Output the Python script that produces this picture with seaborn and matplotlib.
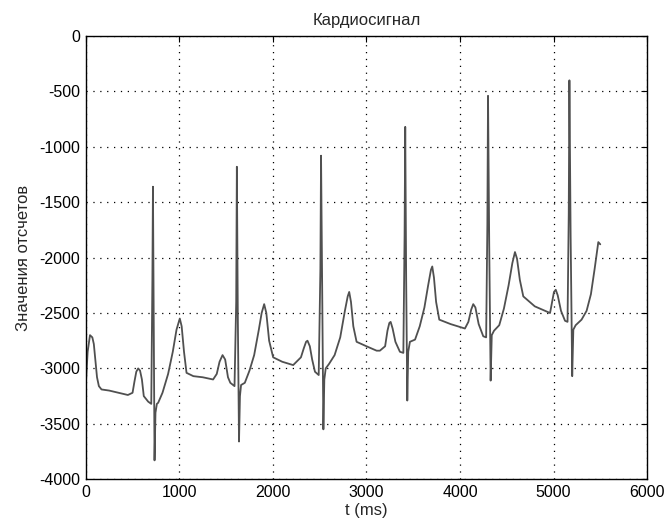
import matplotlib
matplotlib.use("Agg")
import matplotlib.pyplot as plt
import seaborn as sns

# breakpoints of the cardio signal (ms, counts)
t_ms = [0, 20, 45, 70, 86, 100, 120, 140, 168, 250, 350, 450, 500, 520,
        540, 560, 580, 600, 620, 667, 700, 712, 718, 735, 745, 760, 774,
        820, 880, 930, 970, 1005, 1025, 1050, 1077, 1150, 1250, 1361, 1400,
        1430, 1462, 1490, 1520, 1545, 1590, 1608, 1615, 1625, 1638, 1648,
        1660, 1700, 1750, 1800, 1850, 1880, 1907, 1930, 1960, 2003, 2100,
        2217, 2300, 2330, 2355, 2370, 2395, 2420, 2450, 2490, 2508, 2515,
        2527, 2540, 2550, 2565, 2600, 2660, 2720, 2770, 2800, 2816, 2835,
        2860, 2895, 3000, 3109, 3144, 3200, 3225, 3245, 3259, 3280, 3310,
        3358, 3395, 3408, 3415, 3425, 3437, 3447, 3465, 3520, 3570, 3620,
        3660, 3690, 3704, 3722, 3745, 3779, 3900, 4053, 4090, 4120, 4142,
        4165, 4200, 4249, 4280, 4293, 4300, 4313, 4328, 4340, 4364, 4420,
        4470, 4520, 4560, 4588, 4610, 4640, 4677, 4800, 4963, 4985, 5005,
        5024, 5045, 5080, 5123, 5150, 5163, 5170, 5183, 5200, 5212, 5237,
        5300, 5354, 5400, 5440, 5479, 5500]
counts = [-3150, -2850, -2700, -2720, -2780, -2900, -3080, -3160, -3190,
          -3200, -3220, -3240, -3220, -3120, -3030, -3000, -3020, -3100,
          -3250, -3300, -3320, -2200, -1360, -3830, -3400, -3320, -3310,
          -3220, -3050, -2850, -2650, -2550, -2620, -2850, -3040, -3070,
          -3080, -3100, -3050, -2940, -2880, -2920, -3080, -3130, -3160,
          -2400, -1180, -2500, -3660, -3250, -3150, -3130, -3020, -2880,
          -2650, -2500, -2420, -2500, -2750, -2900, -2940, -2970, -2900,
          -2820, -2760, -2750, -2800, -2920, -3030, -3060, -2100, -1080,
          -2300, -3550, -3100, -3000, -2960, -2880, -2720, -2480, -2350,
          -2310, -2400, -2620, -2760, -2800, -2840, -2840, -2800, -2660,
          -2590, -2580, -2640, -2760, -2850, -2860, -1800, -820, -2200,
          -3290, -2850, -2760, -2740, -2620, -2450, -2250, -2110, -2080,
          -2180, -2400, -2560, -2600, -2640, -2580, -2470, -2420, -2450,
          -2600, -2710, -2720, -1700, -540, -1900, -3110, -2700, -2660,
          -2610, -2460, -2250, -2050, -1950, -2010, -2200, -2350, -2440,
          -2500, -2400, -2310, -2290, -2340, -2480, -2570, -2580, -1600,
          -400, -1800, -3070, -2650, -2610, -2560, -2480, -2330, -2100,
          -1860, -1880]

x_ticks = [0, 1000, 2000, 3000, 4000, 5000, 6000]
y_ticks = [0, -500, -1000, -1500, -2000, -2500, -3000, -3500, -4000]

sns.set_style("white")
plt.rcParams['font.family'] = ['Liberation Sans', 'DejaVu Sans']
plt.rcParams['axes.unicode_minus'] = False

fig = plt.figure(figsize=(6.65, 5.22), dpi=100)
ax = fig.add_axes([0.129, 0.082, 0.844, 0.849])

sns.lineplot(x=t_ms, y=counts, ax=ax, color="#505050", linewidth=1.3,
             sort=False, estimator=None)

ax.set_xlim(0, 6000)
ax.set_ylim(-4000, 0)
ax.set_xticks(x_ticks)
ax.set_yticks(y_ticks)
ax.tick_params(direction="in", top=True, right=True, length=4, pad=4,
               labelsize=11.5, colors="black")
ax.grid(True, linestyle=(0, (1, 4.5)), color="black", linewidth=0.9)
for s in ax.spines.values():
    s.set_color("black")
    s.set_linewidth(1.0)

ax.set_title("Кардиосигнал", fontsize=12, pad=8)
ax.set_xlabel("t (ms)", fontsize=12, labelpad=2)
ax.set_ylabel("Значения отсчетов", fontsize=12, labelpad=6)

fig.savefig("out.png", dpi=100)
